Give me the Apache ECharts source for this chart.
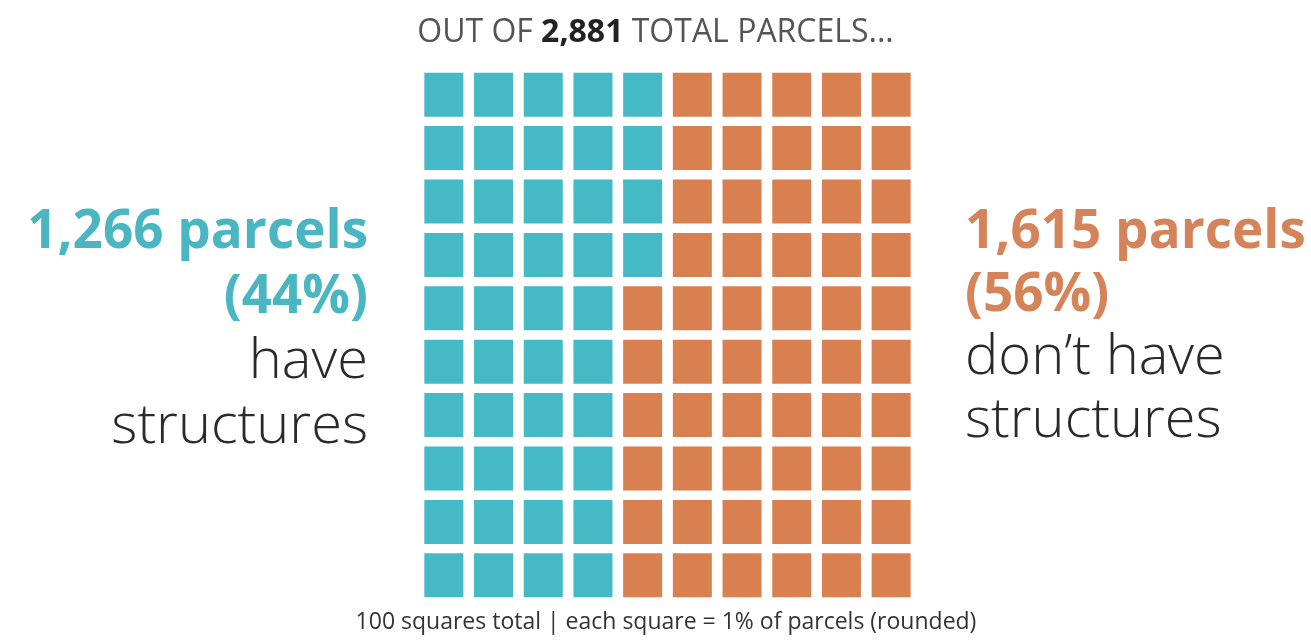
<!DOCTYPE html>
<html>
<head>
<meta charset="utf-8">
<title>Parcels waffle</title>
<script src="https://cdn.jsdelivr.net/npm/echarts@6/dist/echarts.min.js"></script>
<style>
  html, body { margin: 0; padding: 0; background: #fff; }
  #main { width: 1311px; height: 644px; }
</style>
</head>
<body>
<div id="main"></div>
<script>
// data
var groups = ['have structures', "don\u2019t have structures"];
var parcels = [1266, 1615];
var percents = [44, 56];   // one square = 1%
var colors = ['#45b9c5', '#d8804f'];
var gridCols = 10;
var gridRows = 10;

var total = parcels[0] + parcels[1];
function fmt(n) { return n.toLocaleString('en-US'); }

// fill squares column by column, top to bottom
var cells = [[], []];
var k = 0;
for (var g = 0; g < percents.length; g++) {
  for (var i = 0; i < percents[g]; i++) {
    var col = Math.floor(k / gridRows);
    var row = k % gridRows;
    cells[g].push([col, row]);
    k++;
  }
}

var chart = echarts.init(document.getElementById('main'));
var font = '"Open Sans", "Noto Sans", sans-serif';

chart.setOption({
  animation: false,
  title: {
    text: 'OUT OF {b|' + fmt(total) + '} TOTAL PARCELS...',
    left: 'center',
    top: 12,
    textStyle: {
      fontFamily: font,
      fontSize: 32,
      fontWeight: 'normal',
      color: '#555',
      rich: {
        b: { fontFamily: font, fontSize: 32, fontWeight: 'bold', color: '#222' }
      }
    }
  },
  grid: { left: 419, right: 1311 - 916, top: 68, bottom: 644 - 602 },
  xAxis: { type: 'value', min: -0.5, max: gridCols - 0.5, show: false },
  yAxis: { type: 'value', min: -0.5, max: gridRows - 0.5, inverse: true, show: false },
  series: groups.map(function (name, g) {
    return {
      name: name,
      type: 'scatter',
      symbol: 'rect',
      symbolSize: [39, 44],
      itemStyle: { color: colors[g], opacity: 1 },
      data: cells[g]
    };
  }),
  graphic: [
    {
      type: 'text',
      x: 368,
      y: 330,
      style: {
        text: '{b|' + fmt(parcels[0]) + ' parcels}\n{b|(' + percents[0] + '%)}\n{n|have}\n{n|structures}',
        align: 'right',
        verticalAlign: 'middle',
        rich: {
          b: { fontFamily: font, fontSize: 53, fontWeight: 'bold', fill: '#4ab6c1', lineHeight: 65, align: 'right' },
          n: { fontFamily: font, fontSize: 56, fontWeight: 300, fill: '#2a2a2a', lineHeight: 65, align: 'right' }
        }
      }
    },
    {
      type: 'text',
      x: 965,
      y: 327,
      style: {
        text: '{b|' + fmt(parcels[1]) + ' parcels}\n{b|(' + percents[1] + '%)}\n{n|don\u2019t have}\n{n|structures}',
        align: 'left',
        verticalAlign: 'middle',
        rich: {
          b: { fontFamily: font, fontSize: 53, fontWeight: 'bold', fill: '#d5845a', lineHeight: 63, align: 'left' },
          n: { fontFamily: font, fontSize: 56, fontWeight: 300, fill: '#2a2a2a', lineHeight: 63, align: 'left' }
        }
      }
    },
    {
      type: 'text',
      x: 666,
      y: 622,
      style: {
        text: gridCols * gridRows + ' squares total | each square = 1% of parcels (rounded)',
        align: 'center',
        verticalAlign: 'middle',
        fontFamily: font,
        fontSize: 23,
        fill: '#333'
      }
    }
  ]
});
</script>
</body>
</html>
